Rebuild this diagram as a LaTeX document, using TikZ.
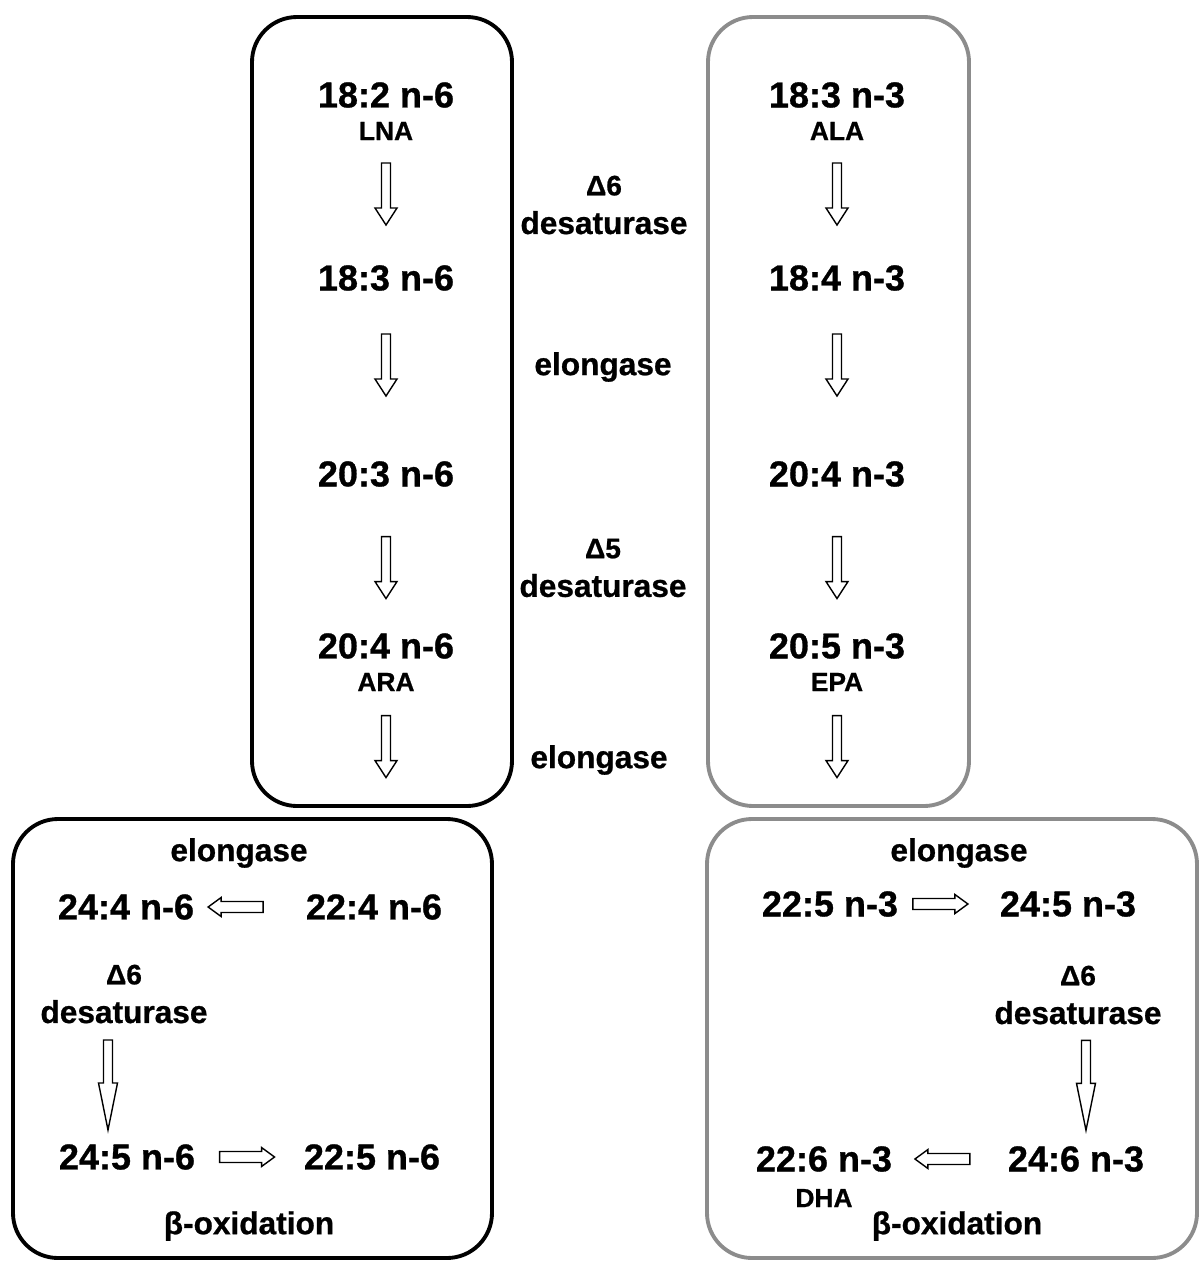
\documentclass[tikz,border=0pt]{standalone}
\usepackage{fontspec}
\setmainfont{Liberation Sans}[BoldFeatures={FakeBold=0.8}]
\usetikzlibrary{positioning,calc}

\newcommand{\deltalabel}[1]{{\fontsize{16}{22}\selectfont Δ#1}}

\tikzset{
  ba pos/.store in=\bapos, ba half/.store in=\bahalf, ba head/.store in=\bahead,
  ba shaft/.store in=\bashaft, ba wing/.store in=\bawing,
  ba pos=0.5, ba half=0.62cm, ba head=0.34cm, ba shaft=0.09cm, ba wing=0.22cm,
  blockarrow/.style={draw, line width=0.8pt, fill=white, line join=miter, to path={
    let \p1=($(\tikztostart)!\bapos!(\tikztotarget)$),
        \p2=($(\p1)!\bahalf!(\tikztostart)$),
        \p3=($(\p1)!\bahalf!(\tikztotarget)$),
        \p4=($(\p3)!\bahead!(\p2)$)
    in ($(\p2)!\bashaft!90:(\p3)$) -- ($(\p4)!\bashaft!90:(\p3)$)
       -- ($(\p4)!\bawing!90:(\p3)$) -- (\p3)
       -- ($(\p4)!\bawing!-90:(\p3)$) -- ($(\p4)!\bashaft!-90:(\p3)$)
       -- ($(\p2)!\bashaft!-90:(\p3)$) -- cycle}},
  sidearrow/.style={blockarrow, ba half=0.55cm, ba head=0.26cm, ba shaft=0.11cm, ba wing=0.19cm},
  longarrow/.style={blockarrow, ba half=0.9cm, ba head=0.94cm, ba shaft=0.09cm, ba wing=0.19cm}
}

\begin{document}
\begin{tikzpicture}[x=0.02cm, y=-0.02cm, node distance=0.2cm,
    fa/.style={font=\fontsize{20.5}{24}\selectfont\bfseries, inner sep=1pt},
    abbr/.style={font=\fontsize{15}{17}\selectfont\bfseries, inner sep=1pt},
    enz/.style={font=\fontsize{18}{22}\selectfont\bfseries, align=center, inner sep=1pt},
    pane/.style={draw, line width=2.2pt, rounded corners=0.9cm},
    greypane/.style={pane, draw=black!45}]
\useasboundingbox (0,0) rectangle (1203,1262);

% panels
\draw[pane] (252,17) rectangle (512,806);
\draw[greypane] (708,17) rectangle (969,806);
\draw[pane] (13,819) rectangle (492,1258);
\draw[greypane] (707,819) rectangle (1197,1258);

% n-6 series
\node[fa] (a182) at (386,95) {18:2 n-6};
\node[abbr, below=of a182] (lna) {LNA};
\node[fa] (a183) at (386,278) {18:3 n-6};
\node[fa] (a203) at (386,474) {20:3 n-6};
\node[fa] (a204) at (386,646) {20:4 n-6};
\node[abbr, below=of a204] (ara) {ARA};
\coordinate (a6out) at (386,809);

% n-3 series
\node[fa] (b183) at (837,95) {18:3 n-3};
\node[abbr, below=of b183] (ala) {ALA};
\node[fa] (b184) at (837,278) {18:4 n-3};
\node[fa] (b204) at (837,474) {20:4 n-3};
\node[fa] (b205) at (837,646) {20:5 n-3};
\node[abbr, below=of b205] (epa) {EPA};
\coordinate (b3out) at (837,809);

% enzymes
\node[enz] (d6top) at (604,205) {\deltalabel{6}\\desaturase};
\node[enz] (elo1) at (603,367) {elongase};
\node[enz] (d5) at (603,568) {\deltalabel{5}\\desaturase};
\node[enz] (elo2) at (599,760) {elongase};

\draw[blockarrow, ba pos=0.541] (a182) to (a183);
\draw[blockarrow, ba pos=0.444] (a183) to (a203);
\draw[blockarrow, ba pos=0.544] (a203) to (a204);
\draw[blockarrow, ba pos=0.617] (a204) to (a6out);
\draw[blockarrow, ba pos=0.541] (b183) to (b184);
\draw[blockarrow, ba pos=0.444] (b184) to (b204);
\draw[blockarrow, ba pos=0.544] (b204) to (b205);
\draw[blockarrow, ba pos=0.617] (b205) to (b3out);

% n-6 retroconversion
\node[enz] (elo3) at (239,853) {elongase};
\node[fa] (a244) at (126,907) {24:4 n-6};
\node[fa] (a224) at (374,907) {22:4 n-6};
\node[enz] (d6left) at (124,994) {\deltalabel{6}\\desaturase};
\node[fa] (a245) at (127,1157) {24:5 n-6};
\node[fa] (a225) at (372,1157) {22:5 n-6};
\node[enz] (box6) at (249,1226) {β-oxidation};

\draw[sidearrow, ba pos=0.558] (a224) to (a244);
\draw[longarrow, ba pos=0.712] ([xshift=-0.36cm]a244.center) to ([xshift=-0.38cm]a245.center);
\draw[sidearrow, ba pos=0.49] (a245) to (a225);

% n-3 retroconversion
\node[enz] (elo4) at (959,853) {elongase};
\node[fa] (b225) at (830,904) {22:5 n-3};
\node[fa] (b245) at (1068,904) {24:5 n-3};
\node[enz] (d6right) at (1078,995) {\deltalabel{6}\\desaturase};
\node[fa] (b246) at (1076,1159) {24:6 n-3};
\node[fa] (b226) at (824,1159) {22:6 n-3};
\node[abbr, below=0.26cm of b226] (dha) {DHA};
\node[enz] (box3) at (957,1226) {β-oxidation};

\draw[sidearrow, ba pos=0.464] (b225) to (b245);
\draw[longarrow, ba pos=0.711] ([xshift=0.36cm]b245.center) to ([xshift=0.2cm]b246.center);
\draw[sidearrow, ba pos=0.53] (b246) to (b226);
\end{tikzpicture}
\end{document}
